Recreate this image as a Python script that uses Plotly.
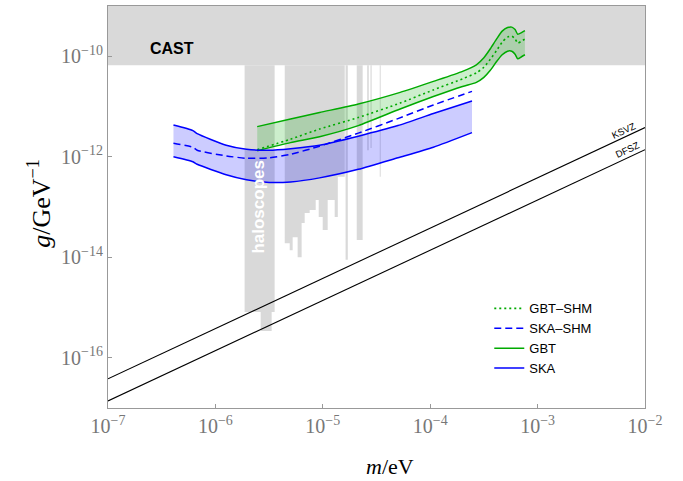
import plotly.graph_objects as go

# ---------------- data ----------------
# CAST limit
cast_m = [1e-7, 1e-2]
cast_g = 6.6e-11
plot_top_g = 1e-8

# QCD axion lines
axion_m = [1e-7, 1e-2]
ksvz_g = [3.8e-17, 3.8e-12]
dfsz_g = [1.38e-17, 1.38e-12]

# haloscope exclusion (vertical bars from CAST limit down to g_bottom)
halo_m_lo = [1.87e-6, 2.64e-6, 3.34e-6, 4.42e-6, 4.92e-6, 5.24e-6, 5.83e-6, 6.35e-6, 6.78e-6,
             7.55e-6, 8.59e-6, 9.16e-6, 9.98e-6, 1.11e-5, 1.29e-5, 1.38e-5, 1.63e-5, 2.07e-5,
             2.59e-5, 2.78e-5, 3.39e-5]
halo_m_hi = [2.64e-6, 3.34e-6, 3.56e-6, 4.92e-6, 5.24e-6, 5.83e-6, 6.35e-6, 6.78e-6, 7.55e-6,
             8.59e-6, 9.16e-6, 9.98e-6, 1.11e-5, 1.29e-5, 1.38e-5, 1.60e-5, 1.71e-5, 2.35e-5,
             2.68e-5, 2.85e-5, 3.46e-5]
halo_g_bottom = [8.1e-16, 3.4e-16, 8.1e-16, 1.9e-14, 1.38e-14, 2.5e-14, 1.0e-14, 4.8e-14, 7.6e-14,
                 8.7e-14, 1.38e-13, 6.3e-14, 3.5e-14, 1.38e-13, 6.3e-14, 4.0e-13, 8.9e-15, 2.2e-14,
                 1.35e-12, 1.5e-12, 4.0e-13]

# SKA projections
ska_m = [4.07e-7, 6.17e-7, 6.76e-7, 1.26e-6, 1.95e-6, 3.16e-6, 5.01e-6, 9.33e-6, 2.14e-5,
         5.01e-5, 1.07e-4, 2.45e-4]
ska_upper = [4.27e-12, 3.31e-12, 2.88e-12, 1.70e-12, 1.41e-12, 1.35e-12, 1.45e-12, 1.70e-12,
             2.57e-12, 4.17e-12, 7.24e-12, 1.29e-11]
ska_lower = [1.0e-12, 7.94e-13, 7.08e-13, 4.37e-13, 3.47e-13, 3.09e-13, 3.16e-13, 3.80e-13,
             5.62e-13, 9.55e-13, 1.55e-12, 3.02e-12]
ska_shm = [1.86e-12, 1.55e-12, 1.35e-12, 1.04e-12, 9.33e-13, 9.55e-13, 1.12e-12, 1.62e-12,
           2.95e-12, 5.75e-12, 1.07e-11, 2.0e-11]

# GBT projections
gbt_m = [2.45e-6, 5.01e-6, 9.33e-6, 2.14e-5, 5.25e-5, 1.07e-4, 2.0e-4, 2.69e-4, 3.16e-4,
         3.63e-4, 4.17e-4, 4.68e-4, 5.25e-4, 5.75e-4, 6.17e-4, 6.53e-4, 7.08e-4, 7.62e-4]
gbt_upper = [3.98e-12, 5.62e-12, 7.59e-12, 1.12e-11, 1.91e-11, 3.16e-11, 5.01e-11, 6.76e-11,
             9.33e-11, 1.41e-10, 2.24e-10, 3.16e-10, 3.72e-10, 3.80e-10, 3.39e-10, 2.75e-10,
             2.95e-10, 3.24e-10]
gbt_lower = [1.32e-12, 1.91e-12, 2.51e-12, 4.17e-12, 8.91e-12, 1.58e-11, 2.51e-11, 3.02e-11,
             3.80e-11, 5.25e-11, 7.94e-11, 1.07e-10, 1.26e-10, 1.26e-10, 1.10e-10, 8.91e-11,
             9.77e-11, 1.07e-10]
gbt_shm = [1.38e-12, 2.24e-12, 3.55e-12, 6.03e-12, 1.17e-11, 2.14e-11, 3.55e-11, 4.68e-11,
           6.03e-11, 8.71e-11, 1.32e-10, 1.91e-10, 2.40e-10, 2.51e-10, 2.24e-10, 1.82e-10,
           2.0e-10, 2.19e-10]

x_tick_vals = [1e-7, 1e-6, 1e-5, 1e-4, 1e-3, 1e-2]
x_tick_text = ["10<sup>−7</sup>", "10<sup>−6</sup>", "10<sup>−5</sup>", "10<sup>−4</sup>",
               "10<sup>−3</sup>", "10<sup>−2</sup>"]
y_tick_vals = [1e-16, 1e-14, 1e-12, 1e-10]
y_tick_text = ["10<sup>−16</sup>", "10<sup>−14</sup>", "10<sup>−12</sup>", "10<sup>−10</sup>"]

# ---------------- styling ----------------
GRAY = "#d9d9d9"
GREEN = "#00aa00"
BLUE = "#0000ff"
FRAME = "#999999"
SPL = dict(shape="spline", smoothing=0.6)

fig = go.Figure()

# CAST region
fig.add_trace(go.Scatter(
    x=[cast_m[0], cast_m[1], cast_m[1], cast_m[0]],
    y=[cast_g, cast_g, plot_top_g, plot_top_g],
    fill="toself", fillcolor=GRAY, line=dict(width=0), mode="lines",
    showlegend=False, hoverinfo="skip"))

# haloscope bars
hx, hy = [], []
for lo, hi, gb in zip(halo_m_lo, halo_m_hi, halo_g_bottom):
    hx += [lo, hi, hi, lo, None]
    hy += [gb, gb, cast_g, cast_g, None]
fig.add_trace(go.Scatter(x=hx, y=hy, fill="toself", fillcolor=GRAY,
                         line=dict(width=0), mode="lines", showlegend=False,
                         hoverinfo="skip"))

# KSVZ / DFSZ
for gy in (ksvz_g, dfsz_g):
    fig.add_trace(go.Scatter(x=axion_m, y=gy, mode="lines",
                             line=dict(color="black", width=1.1),
                             showlegend=False, hoverinfo="skip"))

# band fills (no outline)
fig.add_trace(go.Scatter(x=gbt_m, y=gbt_lower, mode="lines",
                         line=dict(width=0, **SPL), showlegend=False, hoverinfo="skip"))
fig.add_trace(go.Scatter(x=gbt_m, y=gbt_upper, mode="lines", fill="tonexty",
                         fillcolor="rgba(0,170,0,0.2)", line=dict(width=0, **SPL),
                         showlegend=False, hoverinfo="skip"))
fig.add_trace(go.Scatter(x=ska_m, y=ska_lower, mode="lines",
                         line=dict(width=0, **SPL), showlegend=False, hoverinfo="skip"))
fig.add_trace(go.Scatter(x=ska_m, y=ska_upper, mode="lines", fill="tonexty",
                         fillcolor="rgba(0,0,255,0.2)", line=dict(width=0, **SPL),
                         showlegend=False, hoverinfo="skip"))

# SHM lines (legend first)
fig.add_trace(go.Scatter(x=gbt_m, y=gbt_shm, mode="lines",
                         line=dict(color=GREEN, width=1.6, dash="2px,3px", **SPL),
                         name="GBT–SHM"))
fig.add_trace(go.Scatter(x=ska_m, y=ska_shm, mode="lines",
                         line=dict(color=BLUE, width=1.5, dash="7px,4px", **SPL),
                         name="SKA–SHM"))
# band outlines
fig.add_trace(go.Scatter(x=gbt_m, y=gbt_upper, mode="lines",
                         line=dict(color=GREEN, width=1.5, **SPL), name="GBT",
                         legendgroup="gbt"))
fig.add_trace(go.Scatter(x=gbt_m, y=gbt_lower, mode="lines",
                         line=dict(color=GREEN, width=1.5, **SPL), showlegend=False,
                         legendgroup="gbt"))
fig.add_trace(go.Scatter(x=ska_m, y=ska_upper, mode="lines",
                         line=dict(color=BLUE, width=1.5, **SPL), name="SKA",
                         legendgroup="ska"))
fig.add_trace(go.Scatter(x=ska_m, y=ska_lower, mode="lines",
                         line=dict(color=BLUE, width=1.5, **SPL), showlegend=False,
                         legendgroup="ska"))

serif = "Liberation Serif, Times New Roman, serif"
sans = "Liberation Sans, Arial, sans-serif"

axis_common = dict(type="log", showgrid=False, zeroline=False, showline=True,
                   linecolor=FRAME, linewidth=1, mirror=True, ticks="inside",
                   ticklen=4, tickcolor=FRAME,
                   tickfont=dict(family=serif, size=20, color="#777777"))

fig.update_layout(
    width=683, height=481,
    margin=dict(l=108, r=38, t=6, b=73),
    paper_bgcolor="white", plot_bgcolor="white",
    xaxis=dict(range=[-7, -2], tickvals=x_tick_vals, ticktext=x_tick_text, **axis_common),
    yaxis=dict(range=[-17, -9], tickvals=y_tick_vals, ticktext=y_tick_text, **axis_common),
    legend=dict(x=0.71, y=0.285, xanchor="left", yanchor="top", traceorder="normal",
                bgcolor="rgba(0,0,0,0)", font=dict(family=sans, size=13, color="black"),
                tracegroupgap=0),
    annotations=[
        dict(x=-6.408, y=-9.84, xref="x", yref="y", text="<b>CAST</b>", showarrow=False,
             font=dict(family=sans, size=16, color="black")),
        dict(x=-5.607, y=-13.0, xref="x", yref="y", text="<b>haloscopes</b>", showarrow=False,
             textangle=-90, font=dict(family=sans, size=17, color="white")),
        dict(x=-2.20, y=-11.47, xref="x", yref="y", text="KSVZ", showarrow=False,
             textangle=-25, font=dict(family=sans, size=9.5, color="black")),
        dict(x=-2.16, y=-11.86, xref="x", yref="y", text="DFSZ", showarrow=False,
             textangle=-25, font=dict(family=sans, size=9.5, color="black")),
        dict(x=0.525, y=-0.145, xref="paper", yref="paper", text="<i>m</i>/eV",
             xanchor="center", yanchor="middle",
             showarrow=False, font=dict(family=serif, size=22, color="black")),
        dict(x=-0.127, y=0.51, xref="paper", yref="paper", text="<i>g</i>/GeV<sup>−1</sup>",
             xanchor="center", yanchor="middle",
             showarrow=False, textangle=-90, font=dict(family=serif, size=26, color="black")),
    ],
)

fig.write_html("out.html", config={"displayModeBar": False},
               post_script="document.body.style.margin='0';")
